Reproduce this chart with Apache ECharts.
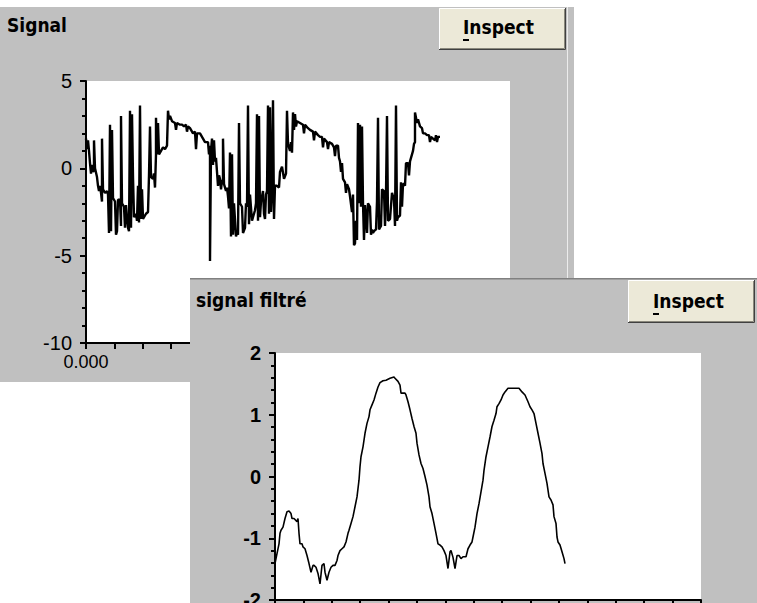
<!DOCTYPE html>
<html><head><meta charset="utf-8">
<script src="https://cdn.jsdelivr.net/npm/echarts@6/dist/echarts.min.js"></script>
<style>
html,body{margin:0;padding:0;background:#fff;width:757px;height:603px;overflow:hidden;position:relative}
#c1{position:absolute;left:0;top:7px;width:574px;height:375px}
#c2{position:absolute;left:190px;top:278px;width:567px;height:325px}
</style></head><body>
<div id="c1"></div><div id="c2"></div>
<script>
// ---- texts ----
const signalTitle = 'Signal';
const filteredTitle = 'signal filtré';
const buttonLabel = 'Inspect';

// ---- axes ----
const timeMinMs = 0, timeMaxMs = 150, timeStepMs = 10;
const signalYMin = -10, signalYMax = 5, signalYStep = 5;
const filteredYMin = -2, filteredYMax = 2, filteredYStep = 1;
// sampling period (ms per sample) of each record
const signalPeriodMs = 150 / 424;
const filteredPeriodMs = 150 / 426;

// ---- raw signal: [sample index, value] ----
const signalSamples = [[0,1.7],[1,1.1],[2,1.6],[3,1.0],[4,0.3],[5,-0.3],[6,0.2],[7,-0.2],[8,-0.1],[8,1.6],[9,0.0],[11,-0.5],[12,-1.0],[13,-1.3],[14,-1.0],[15,-1.4],[16,-1.9],[16,1.7],[17,-1.2],[19,-1.4],[21,-1.3],[22,-1.5],[23,-3.7],[24,2.5],[25,-3.6],[26,2.2],[27,-1.7],[29,-1.9],[30,-3.8],[31,-3.6],[32,-1.8],[34,-1.8],[35,-3.3],[35,3.0],[36,-2.0],[38,-2.2],[39,-3.4],[40,-2.1],[41,-2.8],[42,-3.4],[43,-3.6],[44,3.3],[45,-3.4],[46,3.1],[47,-0.5],[48,-2.8],[50,-2.6],[51,-3.0],[52,-1.0],[53,-3.1],[54,3.6],[55,-2.9],[56,-1.2],[57,-2.9],[59,-2.7],[60,-2.6],[62,-2.5],[63,-0.4],[64,2.4],[65,-0.5],[67,-0.6],[68,-0.3],[69,-1.1],[70,0.8],[70,2.9],[71,0.8],[72,2.6],[73,0.8],[75,1.0],[77,1.2],[79,1.1],[81,1.3],[82,3.3],[83,2.8],[84,3.0],[86,2.7],[89,2.6],[90,2.2],[91,2.6],[94,2.5],[96,2.5],[98,2.4],[100,2.5],[101,2.1],[102,2.4],[104,2.3],[107,2.0],[109,2.1],[110,1.1],[111,2.0],[114,2.0],[117,1.7],[119,1.5],[122,1.5],[123,0.8],[124,1.3],[124,-5.3],[125,1.0],[126,1.7],[127,0.2],[128,1.6],[129,0.4],[130,0.6],[131,-0.2],[132,-1.0],[133,-0.4],[134,-0.6],[135,-1.2],[136,-0.7],[137,-0.7],[137,1.7],[138,-0.9],[140,-1.3],[141,-1.1],[142,-1.6],[143,-2.3],[144,0.9],[145,-3.9],[146,0.8],[147,-3.8],[148,-2.0],[150,-3.9],[151,-3.7],[152,-3.8],[153,2.6],[154,-2.0],[156,-2.2],[157,-3.7],[159,-3.4],[160,-2.0],[161,-2.2],[162,3.6],[163,-3.2],[164,-1.5],[166,-3.0],[167,-2.8],[169,-2.4],[170,-2.0],[171,3.1],[172,-3.0],[173,3.0],[174,-2.8],[175,-1.9],[177,-1.3],[178,-2.6],[179,-2.9],[180,-1.5],[181,-1.3],[182,3.6],[183,-2.6],[184,3.5],[185,-2.5],[186,-1.3],[187,3.9],[188,-2.9],[189,-1.0],[191,-1.0],[193,-1.1],[194,-0.2],[196,0.1],[198,-0.6],[200,-0.3],[201,3.3],[202,1.4],[204,1.0],[205,1.5],[206,0.9],[207,3.2],[208,2.2],[209,3.1],[210,2.4],[211,2.7],[214,2.6],[217,2.5],[218,2.0],[219,2.5],[222,2.3],[224,2.2],[227,2.1],[228,1.6],[229,2.1],[232,1.9],[234,1.8],[236,1.8],[237,1.2],[238,1.7],[241,1.5],[242,1.1],[243,1.5],[246,1.4],[248,1.2],[249,0.7],[250,1.3],[252,1.3],[253,0.6],[254,0.4],[255,-0.2],[256,0.3],[257,-0.6],[259,-0.8],[260,-1.4],[261,-0.9],[263,-1.2],[264,-1.6],[266,-2.5],[267,-1.5],[268,-4.4],[269,-4.3],[270,-3.0],[271,-4.1],[272,2.6],[273,-2.0],[274,2.5],[275,-2.2],[276,2.4],[277,-2.0],[278,-4.1],[279,-2.1],[280,-2.8],[281,-3.7],[282,-2.0],[284,-2.2],[285,-3.8],[286,-3.5],[287,-3.7],[288,-3.6],[290,-3.5],[291,-1.9],[292,2.9],[293,-3.5],[295,-3.3],[296,-1.2],[298,-1.3],[299,-3.3],[300,-1.5],[301,3.0],[302,-3.0],[304,-2.9],[306,-1.4],[308,-1.8],[309,-3.3],[310,3.6],[311,-3.0],[312,-2.8],[314,-2.7],[315,-0.8],[316,-2.2],[317,-0.9],[318,-0.9],[319,-1.0],[320,0.3],[322,0.3],[323,-0.4],[324,0.4],[325,0.6],[327,1.0],[328,1.4],[329,1.5],[329,3.2],[330,2.9],[331,2.6],[332,2.8],[334,2.4],[336,2.3],[337,2.0],[339,2.0],[341,1.9],[343,1.9],[344,1.5],[345,1.8],[347,1.7],[349,1.6],[350,1.9],[351,1.5],[352,1.8],[354,1.8]];

// ---- filtered signal: [sample index, value] ----
const filteredSamples = [[0,-1.41],[2,-1.25],[4,-1.09],[5,-0.92],[6,-0.87],[8,-0.82],[10,-0.68],[12,-0.57],[14,-0.56],[16,-0.60],[17,-0.68],[19,-0.68],[22,-0.73],[23,-0.68],[24,-0.92],[25,-1.09],[27,-1.09],[28,-1.14],[30,-1.17],[32,-1.28],[34,-1.41],[36,-1.55],[38,-1.44],[39,-1.44],[41,-1.47],[43,-1.57],[45,-1.74],[47,-1.44],[49,-1.41],[50,-1.55],[52,-1.68],[54,-1.55],[56,-1.47],[58,-1.44],[60,-1.44],[62,-1.36],[63,-1.28],[65,-1.20],[67,-1.17],[69,-1.14],[71,-1.06],[73,-0.92],[74,-0.87],[76,-0.76],[78,-0.65],[80,-0.49],[82,-0.33],[84,-0.06],[85,0.16],[86,0.32],[88,0.48],[90,0.70],[92,0.86],[94,0.97],[95,1.08],[97,1.16],[99,1.24],[101,1.35],[103,1.45],[105,1.52],[108,1.55],[111,1.56],[115,1.59],[119,1.61],[120,1.59],[123,1.54],[125,1.48],[126,1.35],[130,1.35],[131,1.32],[133,1.21],[135,1.08],[137,0.94],[139,0.81],[141,0.70],[142,0.54],[144,0.35],[146,0.21],[148,0.13],[150,0.0],[152,-0.14],[154,-0.33],[155,-0.49],[157,-0.60],[159,-0.76],[161,-0.92],[163,-1.09],[165,-1.11],[167,-1.14],[169,-1.20],[171,-1.28],[173,-1.49],[175,-1.22],[176,-1.20],[178,-1.31],[180,-1.49],[182,-1.28],[184,-1.28],[186,-1.33],[188,-1.30],[191,-1.30],[193,-1.17],[195,-1.11],[197,-1.06],[198,-0.98],[200,-0.82],[202,-0.60],[204,-0.44],[206,-0.25],[208,-0.06],[209,0.10],[211,0.32],[213,0.48],[215,0.64],[217,0.81],[219,0.91],[221,1.02],[222,1.13],[224,1.18],[226,1.24],[228,1.32],[230,1.37],[233,1.43],[236,1.43],[240,1.43],[244,1.43],[247,1.37],[250,1.32],[253,1.21],[255,1.13],[257,1.08],[259,1.02],[261,0.86],[263,0.70],[265,0.54],[267,0.37],[268,0.21],[270,0.05],[272,-0.11],[274,-0.33],[276,-0.38],[278,-0.46],[279,-0.65],[281,-0.76],[282,-0.98],[283,-1.06],[285,-1.11],[287,-1.22],[289,-1.33],[290,-1.41]];

// ---- styling ----
const PANEL = '#c0c0c0';
const BTN = '#ece9d8';
const TITLE_FONT = "bold 19px 'Liberation Sans Narrow','DejaVu Sans Condensed',sans-serif";
const BTN_FONT = "bold 19px 'Liberation Sans Narrow','DejaVu Sans Condensed',sans-serif";
const TICK_FONT = "'Liberation Sans','DejaVu Sans',sans-serif";

function toSeries(samples, period) {
  return samples.map(p => [p[0] * period, p[1]]);
}
function timeLabel(v) { return (v / 1000).toFixed(3); }
function sparseTimeLabel(v) { return (Math.round(v) % 50 === 0) ? timeLabel(v) : ''; }

function button(x, y, w, h, textX, textY) {
  return {
    type: 'group', x: x, y: y, children: [
      { type: 'rect', shape: { x: 0, y: 0, width: w, height: h }, style: { fill: BTN } },
      { type: 'polyline', shape: { points: [[0.5, h - 1], [0.5, 0.5], [w - 1, 0.5]] }, style: { stroke: '#ffffff', lineWidth: 1, fill: null } },
      { type: 'polyline', shape: { points: [[1, h - 1.5], [w - 1.5, h - 1.5], [w - 1.5, 1]] }, style: { stroke: '#8a887c', lineWidth: 1, fill: null } },
      { type: 'polyline', shape: { points: [[0, h - 0.5], [w - 0.5, h - 0.5], [w - 0.5, 0]] }, style: { stroke: '#404040', lineWidth: 1, fill: null } },
      { type: 'text', x: textX - x, y: textY - y, style: { text: buttonLabel, font: BTN_FONT, fill: '#000', align: 'left', verticalAlign: 'middle', textAlign: 'left', textVerticalAlign: 'middle' } },
      { type: 'rect', shape: { x: textX - x, y: textY - y + 12, width: 6, height: 2 }, style: { fill: '#000' } }
    ]
  };
}

function axisBase() {
  return {
    axisLine: { show: true, onZero: false, lineStyle: { color: '#000', width: 2 } },
    splitLine: { show: false },
    axisTick: { show: true, inside: false, length: 6, lineStyle: { color: '#000', width: 2 } }
  };
}

// ---------- top window ----------
const chart1 = echarts.init(document.getElementById('c1'), null, { renderer: 'svg' });
chart1.setOption({
  backgroundColor: PANEL,
  animation: false,
  grid: { left: 86, top: 74, width: 424, height: 262, show: true, backgroundColor: '#ffffff', borderWidth: 0, containLabel: false, outerBoundsMode: 'none' },
  xAxis: Object.assign(axisBase(), {
    type: 'value', min: timeMinMs, max: timeMaxMs, interval: timeStepMs,
    axisLabel: { show: true, margin: 10, color: '#000', fontFamily: TICK_FONT, fontSize: 18, formatter: sparseTimeLabel }
  }),
  yAxis: Object.assign(axisBase(), {
    type: 'value', min: signalYMin, max: signalYMax, interval: signalYStep,
    minorTick: { show: true, splitNumber: 5, length: 4, lineStyle: { color: '#000', width: 2 } },
    axisLabel: { margin: 14, color: '#000', fontFamily: TICK_FONT, fontSize: 20 }
  }),
  graphic: [
    { type: 'line', shape: { x1: 567.5, y1: 0, x2: 567.5, y2: 375 }, style: { stroke: '#ececec', lineWidth: 1 } },
    { type: 'text', x: 7, y: 18, style: { text: signalTitle, font: TITLE_FONT, fill: '#000', align: 'left', verticalAlign: 'middle', textAlign: 'left', textVerticalAlign: 'middle' } },
    button(439, 1, 127, 42, 463, 20)
  ],
  series: [{
    type: 'line', data: toSeries(signalSamples, signalPeriodMs), showSymbol: false, symbol: 'none',
    lineStyle: { color: '#000', width: 2.4 }, clip: true
  }]
});

// ---------- bottom window ----------
const chart2 = echarts.init(document.getElementById('c2'), null, { renderer: 'svg' });
chart2.setOption({
  backgroundColor: PANEL,
  animation: false,
  grid: { left: 85, top: 75, width: 426, height: 247, show: true, backgroundColor: '#ffffff', borderWidth: 0, containLabel: false, outerBoundsMode: 'none' },
  xAxis: Object.assign(axisBase(), {
    type: 'value', min: timeMinMs, max: timeMaxMs, interval: timeStepMs,
    // labels of this axis fall below the visible window (as in the reference)
    axisLabel: { show: false }
  }),
  yAxis: Object.assign(axisBase(), {
    type: 'value', min: filteredYMin, max: filteredYMax, interval: filteredYStep,
    minorTick: { show: true, splitNumber: 5, length: 4, lineStyle: { color: '#000', width: 2 } },
    axisLabel: { margin: 14, color: '#000', fontFamily: TICK_FONT, fontSize: 20, fontWeight: 'bold' }
  }),
  graphic: [
    { type: 'line', shape: { x1: 0, y1: 0.5, x2: 567, y2: 0.5 }, style: { stroke: '#808080', lineWidth: 1 } },
    { type: 'line', shape: { x1: 0, y1: 1.5, x2: 567, y2: 1.5 }, style: { stroke: '#a0a0a0', lineWidth: 1 } },
    { type: 'text', x: 6, y: 22, style: { text: filteredTitle, font: TITLE_FONT, fill: '#000', align: 'left', verticalAlign: 'middle', textAlign: 'left', textVerticalAlign: 'middle' } },
    button(438, 2, 127, 43, 463, 23)
  ],
  series: [{
    type: 'line', data: toSeries(filteredSamples, filteredPeriodMs), showSymbol: false, symbol: 'none',
    lineStyle: { color: '#000', width: 1.6 }, clip: true
  }]
});
</script>
</body></html>
